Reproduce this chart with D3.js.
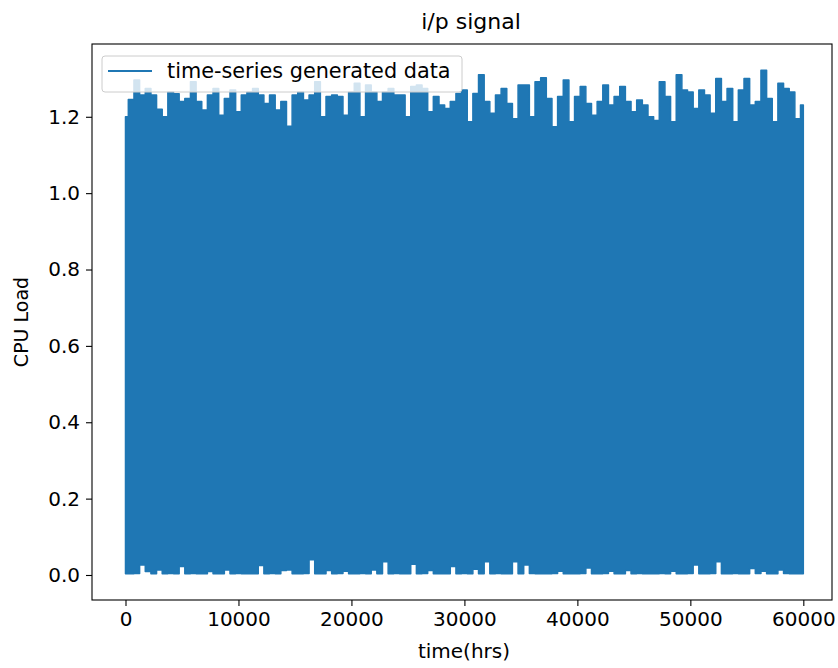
<!DOCTYPE html>
<head>
  <meta charset="utf-8">
  <script src="https://d3js.org/d3.v7.min.js"></script>
  <style>
    body { margin: 0; background: #fff; }
    text { font-family: "DejaVu Sans", sans-serif; fill: #000; }
  </style>
</head>

<body>
  <div id="chart"></div>
</body>

<script>

// sampling step of the envelope (hours)
var stepHrs = 500;

// upper envelope of the signal, one value every 500 hrs (0 .. 60000)
var highs = [
  1.20, 1.245, 1.296, 1.257, 1.274, 1.257, 1.22, 1.20, 1.265, 1.26,
  1.24, 1.248, 1.292, 1.24, 1.218, 1.257, 1.274, 1.204, 1.248, 1.27,
  1.213, 1.257, 1.265, 1.274, 1.257, 1.235, 1.257, 1.218, 1.24, 1.175,
  1.257, 1.265, 1.244, 1.257, 1.292, 1.20, 1.253, 1.257, 1.253, 1.204,
  1.265, 1.288, 1.20, 1.283, 1.265, 1.24, 1.265, 1.274, 1.257, 1.257,
  1.20, 1.279, 1.283, 1.274, 1.213, 1.253, 1.231, 1.222, 1.24, 1.261,
  1.27, 1.187, 1.261, 1.31, 1.24, 1.209, 1.257, 1.274, 1.235, 1.195,
  1.283, 1.283, 1.20, 1.292, 1.302, 1.248, 1.174, 1.253, 1.296, 1.187,
  1.253, 1.279, 1.235, 1.204, 1.24, 1.283, 1.231, 1.253, 1.279, 1.24,
  1.213, 1.244, 1.231, 1.20, 1.19, 1.292, 1.253, 1.187, 1.31, 1.27,
  1.265, 1.222, 1.27, 1.257, 1.209, 1.30, 1.24, 1.274, 1.187, 1.27,
  1.30, 1.231, 1.24, 1.322, 1.248, 1.187, 1.288, 1.274, 1.265, 1.195,
  1.231
];

// lower envelope, same sampling
var lows = [
  0.003, 0.003, 0.004, 0.026, 0.009, 0.003, 0.013, 0.003, 0.004, 0.003,
  0.022, 0.003, 0.004, 0.003, 0.003, 0.009, 0.003, 0.003, 0.013, 0.003,
  0.004, 0.003, 0.003, 0.003, 0.025, 0.003, 0.004, 0.003, 0.012, 0.013,
  0.003, 0.003, 0.004, 0.040, 0.003, 0.003, 0.012, 0.003, 0.004, 0.010,
  0.003, 0.003, 0.004, 0.003, 0.013, 0.003, 0.035, 0.003, 0.004, 0.003,
  0.003, 0.028, 0.003, 0.004, 0.012, 0.003, 0.003, 0.003, 0.022, 0.003,
  0.004, 0.003, 0.015, 0.003, 0.035, 0.003, 0.004, 0.003, 0.003, 0.035,
  0.003, 0.026, 0.004, 0.003, 0.003, 0.003, 0.004, 0.010, 0.003, 0.003,
  0.003, 0.004, 0.018, 0.003, 0.003, 0.004, 0.010, 0.003, 0.003, 0.012,
  0.003, 0.004, 0.003, 0.003, 0.003, 0.004, 0.003, 0.010, 0.003, 0.003,
  0.004, 0.026, 0.003, 0.003, 0.004, 0.035, 0.003, 0.003, 0.004, 0.003,
  0.003, 0.017, 0.004, 0.010, 0.003, 0.003, 0.013, 0.004, 0.003, 0.003,
  0.003
];

var xTicks = [0, 10000, 20000, 30000, 40000, 50000, 60000];
var yTicks = [0.0, 0.2, 0.4, 0.6, 0.8, 1.0, 1.2];

var data = highs.map(function(h, i) {
  return { t: i * stepHrs, hi: h, lo: lows[i] };
});

// set the dimensions and margins of the graph
var W = 838, H = 668;
var plot = { left: 92, right: 832, top: 44, bottom: 600 };

var svg = d3.select("#chart")
  .append("svg")
    .attr("width", W)
    .attr("height", H);

var x = d3.scaleLinear()
  .domain([-2965, 62539])
  .range([plot.left, plot.right]);

var y = d3.scaleLinear()
  .domain([-0.0655, 1.3906])
  .range([plot.bottom, plot.top]);

var blue = "#1f77b4";

// the signal (drawn as its envelope, skyline-like like the dense raw line)
var area = d3.area()
  .curve(d3.curveStep)
  .x(function(d) { return x(d.t); })
  .y0(function(d) { return y(d.lo); })
  .y1(function(d) { return y(d.hi); });

svg.append("path")
  .datum(data)
  .attr("d", area)
  .attr("fill", blue)
  .attr("stroke", blue)
  .attr("stroke-width", 1.5)
  .attr("stroke-linejoin", "round");

// X axis
var gx = svg.append("g")
  .attr("transform", "translate(0," + plot.bottom + ")")
  .call(d3.axisBottom(x).tickValues(xTicks).tickFormat(d3.format("d")).tickSizeOuter(0).tickSize(6).tickPadding(6));

// Y axis
var gy = svg.append("g")
  .attr("transform", "translate(" + plot.left + ",0)")
  .call(d3.axisLeft(y).tickValues(yTicks).tickFormat(d3.format(".1f")).tickSizeOuter(0).tickSize(6).tickPadding(6));

[gx, gy].forEach(function(g) {
  g.select(".domain").remove();
  g.selectAll(".tick line").attr("stroke", "#000").attr("stroke-width", 1.1);
  g.selectAll(".tick text").attr("font-size", 20).attr("font-family", "DejaVu Sans").attr("fill", "#000");
});

// frame
svg.append("rect")
  .attr("x", plot.left)
  .attr("y", plot.top)
  .attr("width", plot.right - plot.left)
  .attr("height", plot.bottom - plot.top)
  .attr("fill", "none")
  .attr("stroke", "#000")
  .attr("stroke-width", 1.1);

// title and labels
svg.append("text")
  .attr("x", 471)
  .attr("y", 29)
  .attr("text-anchor", "middle")
  .attr("font-size", 22)
  .text("i/p signal");

svg.append("text")
  .attr("x", 464)
  .attr("y", 658)
  .attr("text-anchor", "middle")
  .attr("font-size", 20)
  .text("time(hrs)");

svg.append("text")
  .attr("transform", "translate(28," + ((plot.top + plot.bottom) / 2) + ") rotate(-90)")
  .attr("text-anchor", "middle")
  .attr("font-size", 19)
  .text("CPU Load");

// legend
var lg = svg.append("g");
lg.append("rect")
  .attr("x", 102).attr("y", 56)
  .attr("width", 360).attr("height", 36)
  .attr("rx", 3)
  .attr("fill", "#fff")
  .attr("fill-opacity", 0.8)
  .attr("stroke", "#ccc")
  .attr("stroke-width", 1);
lg.append("line")
  .attr("x1", 108).attr("x2", 152)
  .attr("y1", 71).attr("y2", 71)
  .attr("stroke", blue)
  .attr("stroke-width", 2);
lg.append("text")
  .attr("x", 167).attr("y", 78)
  .attr("font-size", 20.8)
  .text("time-series generated data");

</script>
